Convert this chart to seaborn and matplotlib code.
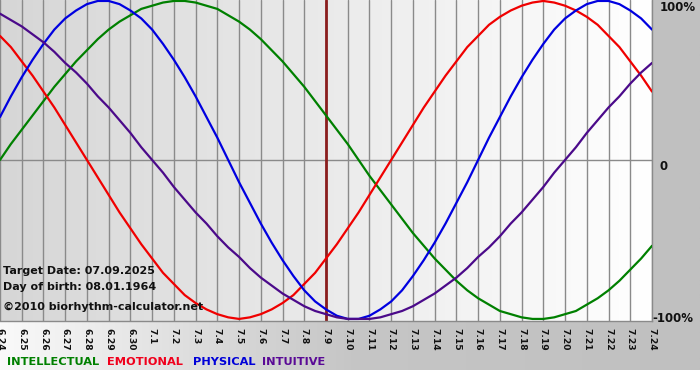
import numpy as np
import pandas as pd
import seaborn as sns
import matplotlib.pyplot as plt
from matplotlib.colors import LinearSegmentedColormap
from matplotlib.transforms import blended_transform_factory, offset_copy

# day labels (month.day)
days = ['6.24', '6.25', '6.26', '6.27', '6.28', '6.29', '6.30',
        '7.1', '7.2', '7.3', '7.4', '7.5', '7.6', '7.7', '7.8', '7.9',
        '7.10', '7.11', '7.12', '7.13', '7.14', '7.15', '7.16', '7.17',
        '7.18', '7.19', '7.20', '7.21', '7.22', '7.23', '7.24']
target_day = '7.9'

# curve values every half day from 6.24 (1 = 100%)
intellectual = [0.00, 0.10, 0.19, 0.28, 0.37, 0.46, 0.54, 0.62, 0.69, 0.76, 0.82,
                0.87, 0.91, 0.95, 0.97, 0.99, 1.00, 1.00, 0.99, 0.97, 0.95,
                0.91, 0.87, 0.82, 0.76, 0.69, 0.62, 0.54, 0.46, 0.37, 0.28,
                0.19, 0.10, 0.00, -0.10, -0.19, -0.28, -0.37, -0.46, -0.54, -0.62,
                -0.69, -0.76, -0.82, -0.87, -0.91, -0.95, -0.97, -0.99, -1.00, -1.00,
                -0.99, -0.97, -0.95, -0.91, -0.87, -0.82, -0.76, -0.69, -0.62, -0.54]
emotional = [0.78, 0.71, 0.62, 0.53, 0.43, 0.33, 0.22, 0.11, 0.00,
             -0.11, -0.22, -0.33, -0.43, -0.53, -0.62, -0.71, -0.78, -0.85, -0.90,
             -0.94, -0.97, -0.99, -1.00, -0.99, -0.97, -0.94, -0.90, -0.85, -0.78,
             -0.71, -0.62, -0.53, -0.43, -0.33, -0.22, -0.11,
             0.00, 0.11, 0.22, 0.33, 0.43, 0.53, 0.62, 0.71, 0.78, 0.85, 0.90,
             0.94, 0.97, 0.99, 1.00, 0.99, 0.97, 0.94, 0.90, 0.85, 0.78,
             0.71, 0.62, 0.53, 0.43]
physical = [0.27, 0.40, 0.52, 0.63, 0.73, 0.82, 0.89, 0.94, 0.98, 1.00, 1.00,
            0.98, 0.94, 0.89, 0.82, 0.73, 0.63, 0.52, 0.40, 0.27, 0.14,
            0.00, -0.14, -0.27, -0.40, -0.52, -0.63, -0.73, -0.82, -0.89, -0.94,
            -0.98, -1.00, -1.00, -0.98, -0.94, -0.89, -0.82, -0.73, -0.63, -0.52,
            -0.40, -0.27, -0.14, 0.00, 0.14, 0.27, 0.40, 0.52, 0.63, 0.73,
            0.82, 0.89, 0.94, 0.98, 1.00, 1.00, 0.98, 0.94, 0.89, 0.82]
intuitive = [0.92, 0.88, 0.84, 0.79, 0.74, 0.68, 0.61, 0.55, 0.48, 0.40, 0.33,
             0.25, 0.17, 0.08, 0.00, -0.08, -0.17, -0.25, -0.33, -0.40, -0.48,
             -0.55, -0.61, -0.68, -0.74, -0.79, -0.84, -0.88, -0.92, -0.95, -0.97,
             -0.99, -1.00, -1.00, -1.00, -0.99, -0.97, -0.95, -0.92, -0.88, -0.84,
             -0.79, -0.74, -0.68, -0.61, -0.55, -0.48, -0.40, -0.33, -0.25, -0.17,
             -0.08, 0.00, 0.08, 0.17, 0.25, 0.33, 0.40, 0.48, 0.55, 0.61]

series_names = ['INTELLECTUAL', 'EMOTIONAL', 'PHYSICAL', 'INTUITIVE']
colors = {'INTELLECTUAL': '#008000', 'EMOTIONAL': '#f00000',
          'PHYSICAL': '#0000e0', 'INTUITIVE': '#4b0a8a'}
legend_colors = {'INTELLECTUAL': '#008000', 'EMOTIONAL': '#f0001c',
                 'PHYSICAL': '#0000d8', 'INTUITIVE': '#5a0a96'}

day_pos = np.arange(len(intellectual)) / 2
df = pd.concat([
    pd.DataFrame({'day': day_pos, 'value': vals, 'cycle': name})
    for name, vals in zip(series_names, [intellectual, emotional, physical, intuitive])
])

sns.set_style('white')
plt.rcParams['font.family'] = ['DejaVu Sans']

W, H = 700, 380
fig = plt.figure(figsize=(W / 100, H / 100), dpi=100)

# figure background: white -> gray, white strip at the very bottom
bg = fig.add_axes([0, 0, 1, 1], zorder=-10)
bg.axis('off')
fig_cmap = LinearSegmentedColormap.from_list('fbg', ['#fafafa', '#c6c6c6', '#c0c0c0'])
bg.imshow(np.linspace(0, 1, 256)[None, :], cmap=fig_cmap, aspect='auto',
          extent=[0, 1, 10 / H, 1])
bg.set_xlim(0, 1)
bg.set_ylim(0, 1)

ax = fig.add_axes([0, (H - 321) / H, 652 / W, 321 / H])

# plot-area gradient gray -> white
ax_cmap = LinearSegmentedColormap.from_list('abg', ['#d6d6d6', '#ffffff'])
ax.imshow(np.linspace(0, 1, 256)[None, :], cmap=ax_cmap, aspect='auto',
          extent=[0, len(days) - 1, -1.013, 1.006], zorder=0)

for i in range(len(days)):
    ax.axvline(i, color='#8a8a8a', lw=1, zorder=1)
ax.axhline(0, color='#8a8a8a', lw=1, zorder=1)
ax.axvline(days.index(target_day), color='#8b1e1e', lw=2, zorder=2)

sns.lineplot(data=df, x='day', y='value', hue='cycle', palette=colors,
             linewidth=1.6, legend=False, ax=ax, zorder=3)

ax.set_xlim(0, len(days) - 1)
ax.set_ylim(-1.013, 1.006)
ax.set_xlabel('')
ax.set_ylabel('')

ax.set_xticks(range(len(days)))
ax.set_xticklabels(days, rotation=270, fontsize=6.6, fontweight='bold', color='#111111')
ax.tick_params(axis='x', length=4, width=1, color='#8a8a8a', pad=1, direction='out')

ax.set_yticks([])
# right-hand scale labels
ytrans = blended_transform_factory(ax.transAxes, ax.transData)
right_labels = [('100%', 1, 8, 'top'), ('0', 0, 8, 'top'), ('-100%', -1, 0, 'center')]
for txt, yv, dx, va in right_labels:
    ax.text(1, yv, txt, transform=offset_copy(ytrans, fig=fig, x=dx, y=0, units='dots'),
            ha='left', va=va, fontsize=8.5, fontweight='bold', color='#111111')

for s in ['left', 'top']:
    ax.spines[s].set_visible(False)
for s in ['bottom', 'right']:
    ax.spines[s].set_color('#8a8a8a')
    ax.spines[s].set_linewidth(1)
ax.set_facecolor('none')

info_font = dict(fontsize=8, fontweight='bold', color='#111111', va='center')
fig.text(3 / W, 1 - 271 / H, 'Target Date: 07.09.2025', **info_font)
fig.text(3 / W, 1 - 287 / H, 'Day of birth: 08.01.1964', **info_font)
fig.text(3 / W, 1 - 307 / H, '\u00a92010 biorhythm-calculator.net', **info_font)

# colored legend words
legend_x = [7, 107, 193, 262]
for name, x in zip(series_names, legend_x):
    fig.text(x / W, 1 - 362 / H, name, fontsize=8.2, fontweight='bold',
             color=legend_colors[name], va='center')

fig.savefig('out.png', dpi=100)
